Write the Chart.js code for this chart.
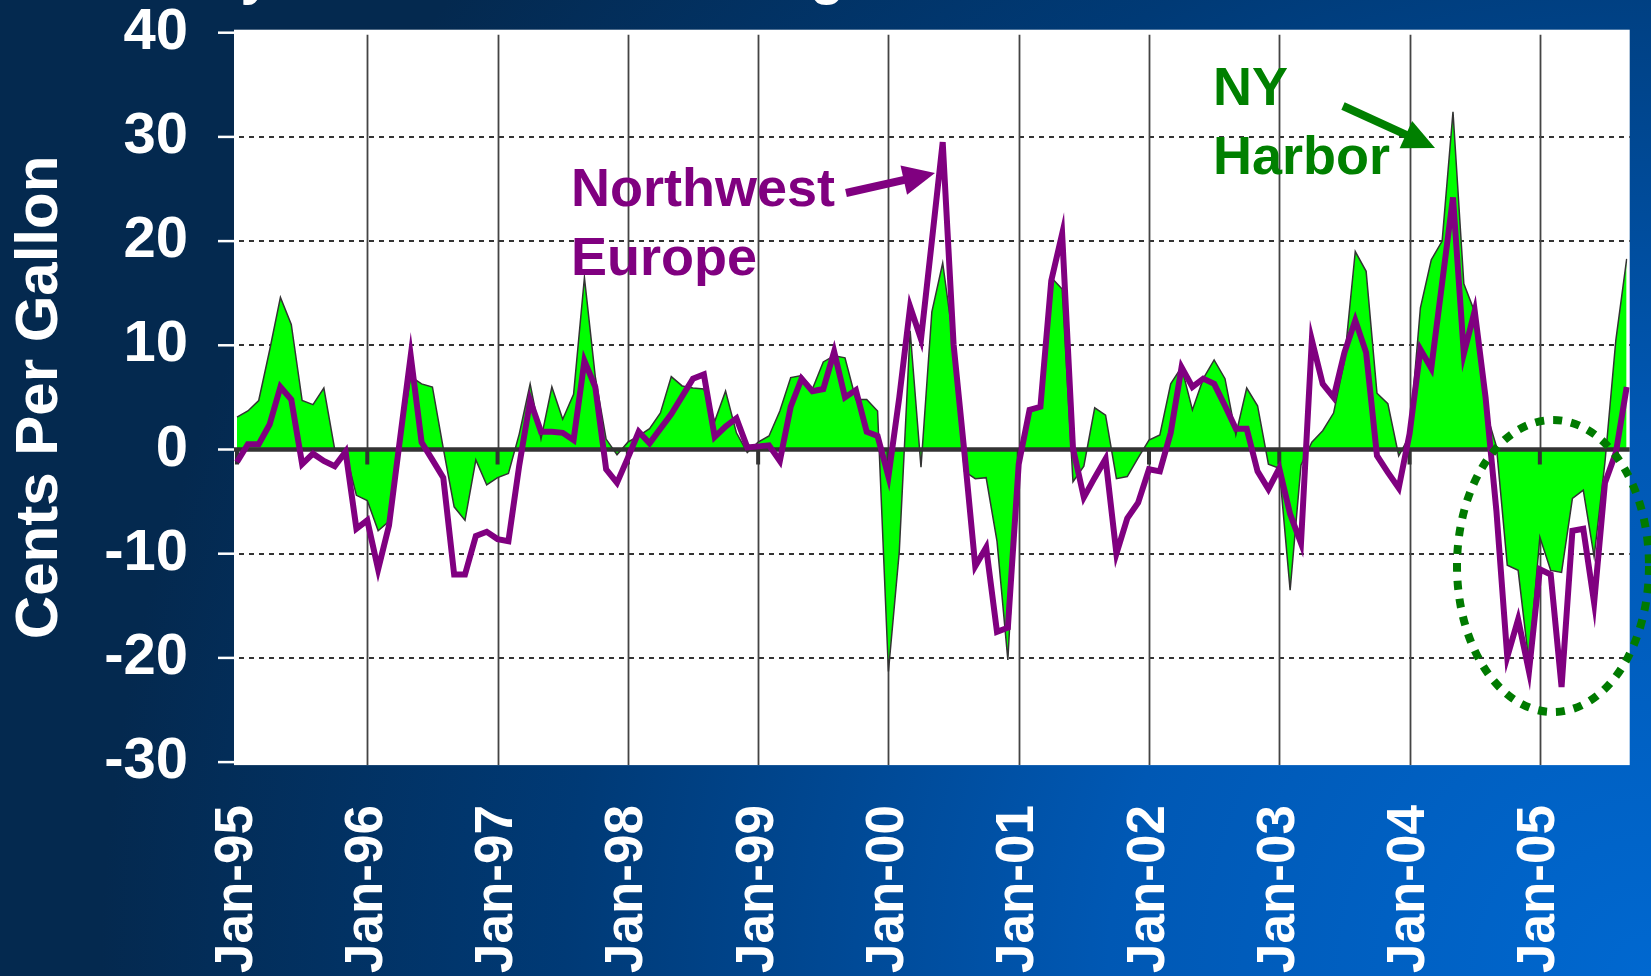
<!DOCTYPE html>
<html>
<head>
<meta charset="utf-8">
<title>NY Harbor vs Northwest Europe</title>
<script src="https://cdn.jsdelivr.net/npm/chart.js@4.4.0/dist/chart.umd.min.js"></script>
<style>
  html, body { margin: 0; padding: 0; background: #02284f; overflow: hidden; }
  canvas { display: block; }
</style>
</head>
<body>
<canvas id="chart" width="1651" height="976"></canvas>
<script>
// monthly values, Jan-95 .. Sep-05, cents per gallon
var nyHarbor = [
  3.1, 3.7, 4.7, 9.5, 14.6, 12.0, 4.7, 4.3, 5.9, 0.0, -0.3, -4.4,
  -4.9, -7.8, -6.9, 0.5, 7.0, 6.3, 6.0, 0.1, -5.5, -6.8, -1.0, -3.4,
  -2.7, -2.3, 1.5, 6.3, 1.0, 6.0, 2.9, 5.3, 16.5, 7.0, 1.0, -0.5,
  0.7, 1.3, 2.0, 3.5, 7.0, 6.1, 5.9, 5.8, 2.7, 5.6, 1.6, -0.3,
  0.7, 1.3, 3.7, 6.9, 7.1, 5.8, 8.4, 9.0, 8.8, 4.8, 4.8, 3.7,
  -21.3, -9.8, 11.4, -1.7, 13.2, 17.9, 10.2, -2.1, -2.8, -2.7, -8.8, -20.2,
  -1.2, 3.7, 4.2, 16.5, 15.4, -3.1, -1.6, 4.0, 3.3, -2.8, -2.6, -0.8,
  0.9, 1.4, 6.3, 7.9, 3.8, 6.8, 8.6, 6.8, 1.4, 5.9, 4.2, -1.4,
  -1.8, -13.5, -1.5, 0.7, 1.8, 3.5, 8.5, 19.0, 17.1, 5.4, 4.4, -0.6,
  1.3, 13.6, 18.2, 20.0, 32.4, 15.9, 13.2, 3.8, 0.3, -11.1, -11.6, -20.5,
  -8.4, -11.6, -11.8, -4.7, -3.9, -10.3, -1.2, 10.5, 18.3
];
var nwEurope = [
  -1.2, 0.5, 0.5, 2.4, 6.0, 4.8, -1.4, -0.4, -1.1, -1.6, -0.2, -7.6,
  -6.8, -11.5, -7.3, 0.9, 9.0, 0.7, -1.0, -2.7, -12.0, -12.0, -8.3, -7.9,
  -8.6, -8.8, -1.5, 4.7, 1.7, 1.7, 1.6, 0.9, 8.5, 6.0, -1.9, -3.2,
  -0.8, 1.7, 0.6, 2.0, 3.4, 5.1, 6.8, 7.2, 1.2, 2.2, 3.0, 0.2,
  0.3, 0.4, -1.1, 4.1, 6.8, 5.6, 5.8, 9.4, 5.0, 5.7, 1.7, 1.3,
  -2.6, 5.0, 13.7, 10.6, 20.0, 29.5, 10.1, -0.3, -11.2, -9.4, -17.5, -17.1,
  -1.4, 3.8, 4.1, 16.2, 20.7, 0.1, -4.6, -2.7, -0.9, -10.0, -6.6, -5.1,
  -1.9, -2.1, 1.6, 7.9, 6.0, 6.8, 6.3, 4.2, 2.0, 2.0, -2.1, -3.8,
  -1.8, -6.2, -9.0, 10.5, 6.3, 5.0, 9.3, 12.4, 9.3, -0.6, -2.2, -3.7,
  1.5, 9.6, 7.8, 16.0, 24.2, 9.2, 13.3, 5.0, -5.9, -19.9, -16.3, -21.3,
  -11.5, -12.0, -22.8, -7.8, -7.6, -14.7, -3.2, -0.3, 6.0
];
var monthNames = ['Jan', 'Feb', 'Mar', 'Apr', 'May', 'Jun', 'Jul', 'Aug', 'Sep', 'Oct', 'Nov', 'Dec'];
var years = ['95', '96', '97', '98', '99', '00', '01', '02', '03', '04', '05'];
var yAxisTicks = [-30, -20, -10, 0, 10, 20, 30, 40];

var categories = [];
years.forEach(function (yy) {
  monthNames.forEach(function (m) { categories.push(m + '-' + yy); });
});
categories = categories.slice(0, nyHarbor.length);

var family = '"Liberation Sans", Arial, Helvetica, sans-serif';
var tickFont = { family: family, size: 58, weight: 'bold', lineHeight: 1 };
var dateFont = { family: family, size: 53, weight: 'bold', lineHeight: 1 };
var axisTitleFont = { family: family, size: 60, weight: 'bold', lineHeight: 1 };

function drawArrow(ctx, x1, y1, x2, y2, color) {
  var ang = Math.atan2(y2 - y1, x2 - x1), head = 32, half = 15;
  var bx = x2 - head * Math.cos(ang), by = y2 - head * Math.sin(ang);
  ctx.strokeStyle = color;
  ctx.lineWidth = 8;
  ctx.lineCap = 'butt';
  ctx.beginPath(); ctx.moveTo(x1, y1); ctx.lineTo(bx + 4 * Math.cos(ang), by + 4 * Math.sin(ang)); ctx.stroke();
  ctx.fillStyle = color;
  ctx.beginPath();
  ctx.moveTo(x2, y2);
  ctx.lineTo(bx + half * Math.sin(ang), by - half * Math.cos(ang));
  ctx.lineTo(bx - half * Math.sin(ang), by + half * Math.cos(ang));
  ctx.closePath();
  ctx.fill();
}

var slide = {
  id: 'slide',
  beforeDraw: function (chart) {
    var ctx = chart.ctx, a = chart.chartArea, W = chart.width, H = chart.height;
    var xs = chart.scales.x, ys = chart.scales.y;
    ctx.save();
    // blue slide background
    var g = ctx.createRadialGradient(W, H, 0, W, H, 1550);
    g.addColorStop(0, '#0068d0');
    g.addColorStop(0.35, '#0058b4');
    g.addColorStop(0.7, '#003a76');
    g.addColorStop(1, '#04294f');
    ctx.fillStyle = g;
    ctx.fillRect(0, 0, W, H);

    // plot area
    ctx.fillStyle = '#ffffff';
    ctx.fillRect(a.left - 3, a.top - 3, a.right - a.left + 6, a.bottom - a.top + 6);

    // dashed value grid
    ctx.strokeStyle = '#333333';
    ctx.lineWidth = 2;
    ctx.setLineDash([5, 5]);
    yAxisTicks.forEach(function (v, k) {
      if (v === 0 || k === 0 || k === yAxisTicks.length - 1) return;
      var py = Math.round(ys.getPixelForValue(v));
      ctx.beginPath(); ctx.moveTo(a.left + 2, py); ctx.lineTo(a.right + 3, py); ctx.stroke();
    });
    ctx.setLineDash([]);

    // yearly grid
    ctx.strokeStyle = '#444444';
    ctx.lineWidth = 1.8;
    categories.forEach(function (c, i) {
      if (i === 0 || c.indexOf('Jan') !== 0) return;
      var px = Math.round(xs.getPixelForValue(i)) + 0.5;
      ctx.beginPath(); ctx.moveTo(px, a.top + 2); ctx.lineTo(px, a.bottom + 3); ctx.stroke();
    });

    // white tick marks on the value axis
    ctx.strokeStyle = '#ffffff';
    ctx.lineWidth = 2.5;
    yAxisTicks.forEach(function (v) {
      var py = ys.getPixelForValue(v);
      ctx.beginPath(); ctx.moveTo(a.left - 19, py); ctx.lineTo(a.left - 3, py); ctx.stroke();
    });
    ctx.restore();
  },
  afterDatasetDraw: function (chart, args) {
    if (args.index !== 1) return;
    var ctx = chart.ctx, a = chart.chartArea, xs = chart.scales.x, ys = chart.scales.y;
    var zy = ys.getPixelForValue(0);
    ctx.save();
    ctx.strokeStyle = '#333333';
    ctx.lineWidth = 4.5;
    ctx.beginPath(); ctx.moveTo(a.left - 3, zy); ctx.lineTo(a.right + 3, zy); ctx.stroke();
    ctx.lineWidth = 4;
    categories.forEach(function (c, i) {
      if (c.indexOf('Jan') !== 0) return;
      var px = xs.getPixelForValue(i);
      ctx.beginPath(); ctx.moveTo(px, zy); ctx.lineTo(px, zy + 15); ctx.stroke();
    });
    ctx.restore();
  },
  afterDraw: function (chart) {
    var ctx = chart.ctx;
    ctx.save();
    ctx.textAlign = 'left';
    ctx.textBaseline = 'alphabetic';
    // slide title, cut off by the top edge
    ctx.fillStyle = '#ffffff';
    ctx.font = 'bold 56px ' + family;
    ctx.fillText('Monthly Gasoline Crack Margins', 57, -7);

    ctx.font = 'bold 54px ' + family;
    ctx.fillStyle = '#800080';
    ctx.fillText('Northwest', 571, 206);
    ctx.fillText('Europe', 571, 275);
    drawArrow(ctx, 846, 193, 935, 173, '#800080');

    ctx.fillStyle = '#008000';
    ctx.fillText('NY', 1213, 105);
    ctx.fillText('Harbor', 1213, 174);
    drawArrow(ctx, 1343, 106, 1435, 148, '#008000');

    // dotted ring round 2005
    ctx.strokeStyle = '#007a00';
    ctx.lineWidth = 8;
    ctx.setLineDash([9, 9]);
    ctx.beginPath();
    ctx.ellipse(1553, 566, 96, 146, 0, 0, Math.PI * 2);
    ctx.stroke();
    ctx.restore();
  }
};

var ctx = document.getElementById('chart').getContext('2d');
var chart = new Chart(ctx, {
  type: 'line',
  data: {
    labels: categories,
    datasets: [{
      label: 'Northwest Europe',
      data: nwEurope,
      borderColor: '#800080',
      borderWidth: 6,
      fill: false,
      order: 1
    }, {
      label: 'NY Harbor',
      data: nyHarbor,
      borderColor: '#333333',
      borderWidth: 1.5,
      backgroundColor: '#00ff00',
      fill: 'origin',
      order: 2
    }]
  },
  options: {
    responsive: false,
    animation: false,
    devicePixelRatio: 1,
    layout: { padding: { top: 32.7, right: 24.3, bottom: 0, left: 0 } },
    elements: { point: { radius: 0 }, line: { tension: 0 } },
    plugins: { legend: { display: false }, tooltip: { enabled: false } },
    scales: {
      x: {
        type: 'category',
        offset: false,
        grid: { display: false, drawTicks: false },
        border: { display: false },
        ticks: {
          autoSkip: false,
          minRotation: 90,
          maxRotation: 90,
          padding: 43,
          color: '#ffffff',
          font: dateFont,
          callback: function (value) {
            var l = this.getLabelForValue(value);
            return l.indexOf('Jan') === 0 ? l : null;
          }
        },
        afterFit: function (s) { s.height = 213.9; s.paddingLeft = 0; s.paddingRight = 0; }
      },
      y: {
        min: yAxisTicks[0],
        max: yAxisTicks[yAxisTicks.length - 1],
        grid: { display: false, drawTicks: false },
        border: { display: false },
        ticks: { stepSize: yAxisTicks[1] - yAxisTicks[0], padding: 49, color: '#ffffff', font: tickFont },
        title: {
          display: true,
          text: 'Cents Per Gallon',
          color: '#ffffff',
          font: axisTitleFont,
          padding: { top: 10, bottom: 0 }
        },
        afterFit: function (s) { s.width = 237; s.paddingTop = 0; s.paddingBottom = 0; }
      }
    }
  },
  plugins: [slide]
});
</script>
</body>
</html>
